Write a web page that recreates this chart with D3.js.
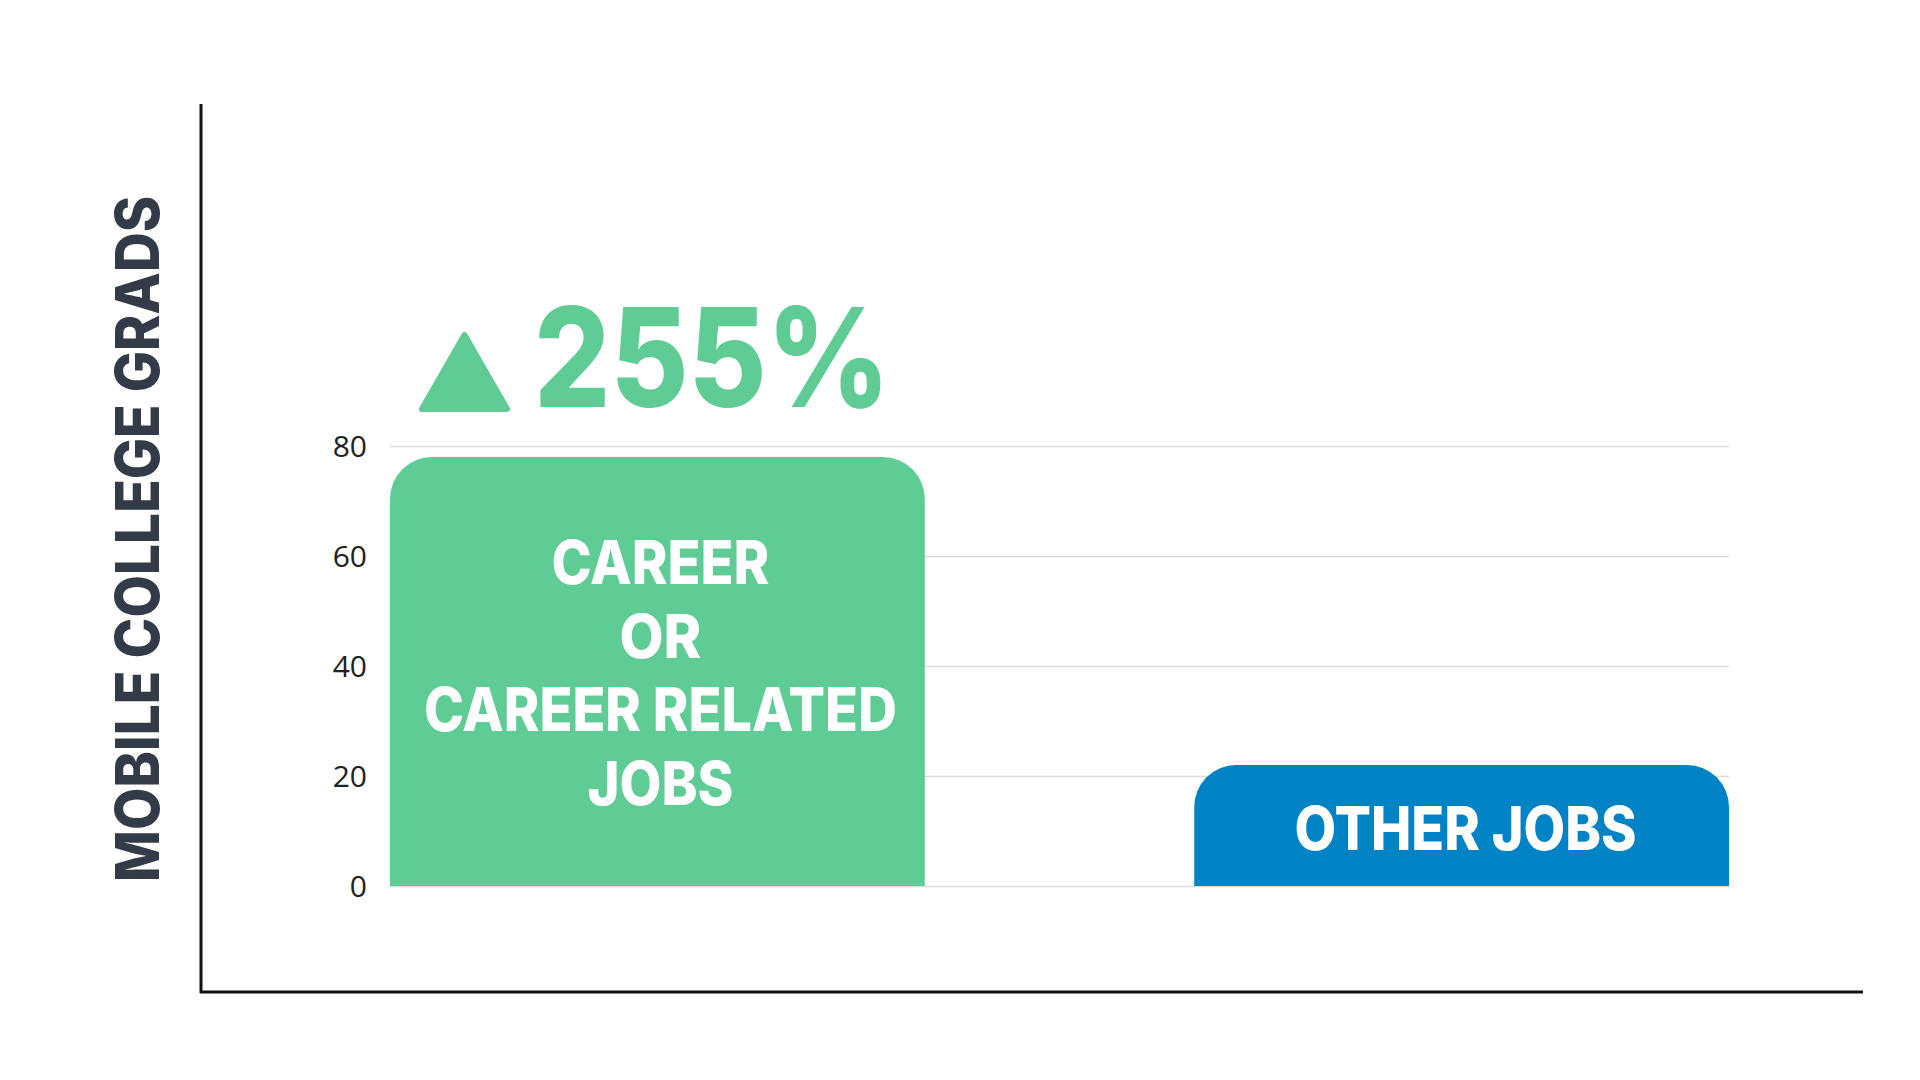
<!DOCTYPE html>
<html>
<head>
<meta charset="utf-8">
<script src="https://cdn.jsdelivr.net/npm/d3@7"></script>
<style>
  html, body { margin: 0; padding: 0; background: #ffffff; }
  svg { display: block; }
</style>
</head>
<body>
<svg id="chart" width="1920" height="1080"></svg>
<script>
// ---- data ----
const categories = ["career", "other"];
const values = [78, 22];
const barLabels = [["CAREER", "OR", "CAREER RELATED", "JOBS"], ["OTHER JOBS"]];
const barColors = ["#5ecc94", "#0083c4"];
const tickValues = [0, 20, 40, 60, 80];
const axisTitle = "MOBILE COLLEGE GRADS";

// ---- layout ----
const svg = d3.select("#chart");
const plot = { left: 390, right: 1729, top: 446, bottom: 886 };

const x = d3.scaleBand().domain(categories).range([plot.left, plot.right]).paddingInner(0.335).paddingOuter(0);
const y = d3.scaleLinear().domain([0, 80]).range([plot.bottom, plot.top]);

const heavyFont = "Inter, Lato, sans-serif";

// gridlines
const grid = svg.append("g").attr("transform", `translate(${plot.left},0)`)
  .call(d3.axisLeft(y).tickValues(tickValues).tickSize(-(plot.right - plot.left)).tickFormat(""));
grid.select(".domain").remove();
grid.selectAll(".tick line").attr("stroke", "#dcdcdc").attr("stroke-width", 1.5);

// tick labels
const yAxis = svg.append("g").attr("transform", `translate(${plot.left},0)`)
  .call(d3.axisLeft(y).tickValues(tickValues).tickSize(0).tickPadding(23));
yAxis.select(".domain").remove();
yAxis.selectAll("text")
  .attr("font-family", "'Open Sans', sans-serif")
  .attr("font-weight", 400)
  .attr("font-size", 30)
  .attr("fill", "#222")
  .attr("dy", "0.34em");

// bars with rounded top corners
function roundedTopArc(x0, y0, w, h, r) {
  r = Math.min(r, h, w / 2);
  return `M${x0},${y0 + h}V${y0 + r}A${r},${r} 0 0 1 ${x0 + r},${y0}H${x0 + w - r}A${r},${r} 0 0 1 ${x0 + w},${y0 + r}V${y0 + h}Z`;
}
svg.append("g").selectAll("path").data(categories).join("path")
  .attr("d", (c, i) => roundedTopArc(x(c), y(values[i]), x.bandwidth(), y(0) - y(values[i]), 42))
  .attr("fill", (c, i) => barColors[i]);

// bar labels
const careerCx = x(categories[0]) + x.bandwidth() / 2 + 3;
const lineY0 = 562, lineStep = 73.5;
const careerWidths = [218, 82, 473, 146];
svg.append("g").selectAll("text").data(barLabels[0]).join("text")
  .attr("x", careerCx)
  .attr("y", (d, i) => lineY0 + i * lineStep)
  .attr("text-anchor", "middle")
  .attr("dominant-baseline", "central")
  .attr("font-family", heavyFont)
  .attr("font-weight", 800)
  .attr("font-size", 60)
  .attr("textLength", (d, i) => careerWidths[i])
  .attr("lengthAdjust", "spacingAndGlyphs")
  .attr("fill", "#ffffff")
  .text(d => d);

const otherCx = x(categories[1]) + x.bandwidth() / 2 + 4;
svg.append("text")
  .attr("x", otherCx)
  .attr("y", 828)
  .attr("text-anchor", "middle")
  .attr("dominant-baseline", "central")
  .attr("font-family", heavyFont)
  .attr("font-weight", 800)
  .attr("font-size", 60)
  .attr("textLength", 342)
  .attr("lengthAdjust", "spacingAndGlyphs")
  .attr("fill", "#ffffff")
  .text(barLabels[1][0]);

// increase annotation
const pct = Math.round((values[0] / values[1] - 1) * 100);
const annoBaseline = 407;
const annoX = 534;
svg.append("text")
  .attr("x", annoX)
  .attr("y", annoBaseline)
  .attr("font-family", heavyFont)
  .attr("font-weight", 800)
  .attr("font-size", 138)
  .attr("textLength", 356)
  .attr("lengthAdjust", "spacingAndGlyphs")
  .attr("fill", barColors[0])
  .text(pct + "%");

// triangle
const triL = annoX - 112, triR = annoX - 27, triTop = annoBaseline - 72, triBot = annoBaseline + 2;
svg.append("path")
  .attr("d", `M${triL},${triBot}L${(triL + triR) / 2},${triTop}L${triR},${triBot}Z`)
  .attr("fill", barColors[0])
  .attr("stroke", barColors[0])
  .attr("stroke-width", 6)
  .attr("stroke-linejoin", "round");

// axis frame lines
svg.append("line").attr("x1", 201).attr("x2", 201).attr("y1", 104).attr("y2", 993)
  .attr("stroke", "#111").attr("stroke-width", 3);
svg.append("line").attr("x1", 200).attr("x2", 1863).attr("y1", 992).attr("y2", 992)
  .attr("stroke", "#111").attr("stroke-width", 3);

// axis title
svg.append("text")
  .attr("transform", "translate(137,539) rotate(-90)")
  .attr("text-anchor", "middle")
  .attr("dominant-baseline", "central")
  .attr("font-family", heavyFont)
  .attr("font-weight", 800)
  .attr("font-size", 60)
  .attr("textLength", 686)
  .attr("lengthAdjust", "spacingAndGlyphs")
  .attr("fill", "#333a48")
  .text(axisTitle);
</script>
</body>
</html>
